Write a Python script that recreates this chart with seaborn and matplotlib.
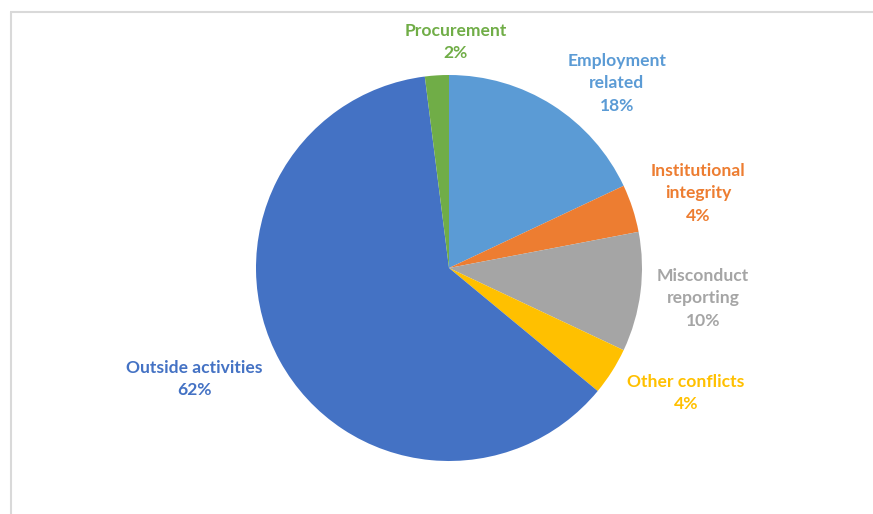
import matplotlib
matplotlib.use("Agg")
import matplotlib.pyplot as plt
import seaborn as sns

categories = ["Employment related", "Institutional integrity", "Misconduct reporting",
              "Other conflicts", "Outside activities", "Procurement"]
values = [18, 4, 10, 4, 62, 2]
label_lines = [["Employment", "related"], ["Institutional", "integrity"], ["Misconduct", "reporting"],
               ["Other conflicts"], ["Outside activities"], ["Procurement"]]
colors = ["#5B9BD5", "#ED7D31", "#A5A5A5", "#FFC000", "#4472C4", "#70AD47"]

sns.set_theme(style="white")
plt.rcParams['font.family'] = ['Lato', 'DejaVu Sans']

W, H = 873, 514
fig = plt.figure(figsize=(W / 100, H / 100), dpi=100)
ax = fig.add_axes([0, 0, 1, 1])

cx, cy, r = 449, H - 268, 193
ax.pie(values, colors=colors, startangle=90, counterclock=False,
       center=(cx, cy), radius=r, wedgeprops=dict(linewidth=0), frame=True)
ax.set_xlim(0, W)
ax.set_ylim(0, H)
ax.set_aspect("equal")
ax.axis("off")

# label anchor positions (pixel coordinates of first line centre)
label_pos = [(617, 61), (698, 171), (703, 276), (686, 382), (194, 368), (456, 31)]
line_h = 22.3
for lines, v, col, (lx, ly) in zip(label_lines, values, colors, label_pos):
    all_lines = lines + [f"{v}%"]
    for i, t in enumerate(all_lines):
        ax.text(lx, H - (ly + i * line_h), t, color=col, fontsize=12.6, fontweight="bold",
                ha="center", va="center")

# chart frame
ax.plot([10.5, 10.5], [0, H - 12], color="#d9d9d9", lw=1.5, solid_capstyle="butt")
ax.plot([10, W], [H - 12, H - 12], color="#d9d9d9", lw=1.5, solid_capstyle="butt")

fig.savefig("out.png", dpi=100)
